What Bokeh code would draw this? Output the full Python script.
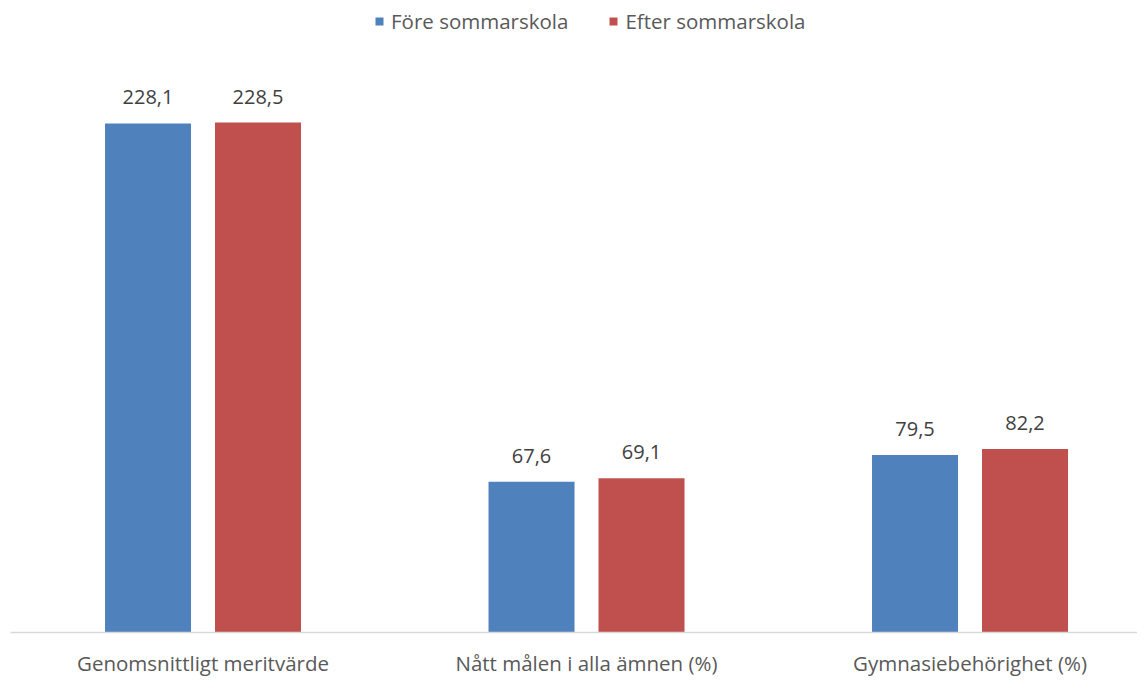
from bokeh.plotting import figure
from bokeh.models import ColumnDataSource, Range1d, Legend, LegendItem, LabelSet, FixedTicker
from bokeh.transform import dodge
from bokeh.core.properties import value
from bokeh.embed import file_html
from bokeh.resources import INLINE

categories = ["Genomsnittligt meritvärde", "Nått målen i alla ämnen (%)", "Gymnasiebehörighet (%)"]
series_names = ["Före sommarskola", "Efter sommarskola"]
fore = [228.1, 67.6, 79.5]
efter = [228.5, 69.1, 82.2]

BLUE = "#4f81bd"
RED = "#c0504d"
FONT = "Open Sans"


def fmt(v):
    return f"{v:.1f}".replace(".", ",")


xs = list(range(len(categories)))
src = ColumnDataSource(dict(
    x=xs,
    fore=fore,
    efter=efter,
    fore_lbl=[fmt(v) for v in fore],
    efter_lbl=[fmt(v) for v in efter],
))

p = figure(width=1137, height=679, output_backend="svg", toolbar_location=None,
           x_range=Range1d(-0.502, 2.4367), y_range=Range1d(0, 283.2),
           y_axis_type=None,
           min_border_left=10, min_border_right=0, min_border_top=0, min_border_bottom=42)
p.outline_line_color = None
p.background_fill_color = "white"
p.border_fill_color = "white"
p.xgrid.visible = False

ax = p.xaxis[0]
ax.ticker = FixedTicker(ticks=xs)
ax.major_label_overrides = {i: c for i, c in zip(xs, categories)}
ax.axis_line_color = "#d9d9d9"
ax.axis_line_width = 1.5
ax.major_tick_line_color = None
ax.minor_tick_line_color = None
ax.major_label_standoff = 10
ax.major_label_text_font = FONT
ax.major_label_text_font_size = "20.5px"
ax.major_label_text_color = "#595959"

bw = 0.2243
off = 0.1434
r1 = p.vbar(x=dodge("x", -off, range=p.x_range), top="fore", width=bw, source=src,
            fill_color=BLUE, line_color=None)
r2 = p.vbar(x=dodge("x", off, range=p.x_range), top="efter", width=bw, source=src,
            fill_color=RED, line_color=None)

for xoff, col, lbl in [(-off, "fore", "fore_lbl"), (off, "efter", "efter_lbl")]:
    p.add_layout(LabelSet(x=dodge("x", xoff, range=p.x_range), y=col, text=lbl, source=src,
                          y_offset=19, text_align="center", text_baseline="alphabetic",
                          text_font=value(FONT), text_font_size="20px", text_color="#404040"))

legend = Legend(items=[LegendItem(label=series_names[0], renderers=[r1]),
                       LegendItem(label=series_names[1], renderers=[r2])],
                orientation="horizontal", location=(364, 597),
                label_text_font=FONT, label_text_font_size="20.5px", label_text_color="#595959",
                glyph_width=10, glyph_height=10, label_standoff=7, spacing=40,
                padding=6, margin=0, border_line_color=None, background_fill_alpha=0)
p.add_layout(legend)

open("out.html", "w").write(file_html(p, INLINE))
